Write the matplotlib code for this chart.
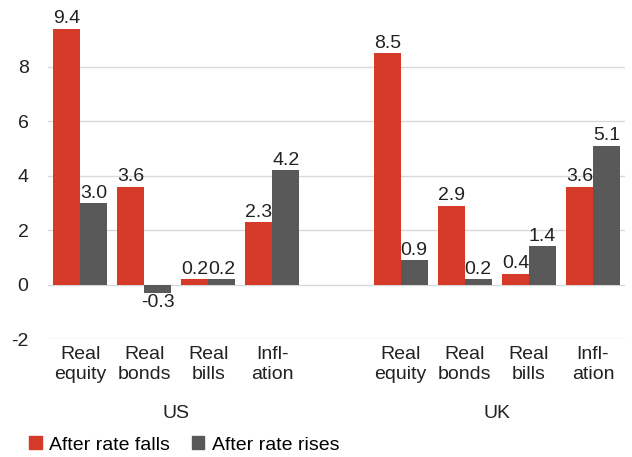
import matplotlib
matplotlib.use("Agg")
import matplotlib.pyplot as plt
import matplotlib.transforms as mtransforms
from matplotlib.patches import Patch
import numpy as np

plt.rcParams['font.family'] = ['Liberation Sans', 'DejaVu Sans']

categories = ["Real\nequity", "Real\nbonds", "Real\nbills", "Infl-\nation"]
groups = ["US", "UK"]
falls_us = [9.4, 3.6, 0.2, 2.3]
rises_us = [3.0, -0.3, 0.2, 4.2]
falls_uk = [8.5, 2.9, 0.4, 3.6]
rises_uk = [0.9, 0.2, 1.4, 5.1]
series_names = ["After rate falls", "After rate rises"]
yticks = [-2, 0, 2, 4, 6, 8]

RED = "#D63B29"
GRAY = "#595959"
TXT = "#222222"
FS = 14

fig = plt.figure(figsize=(6.32, 4.57), dpi=100)
ax = fig.add_axes([0.076, 0.258, 0.913, 0.742])

w = 0.42
pos_us = np.arange(4)
pos_uk = np.arange(4) + 5
positions = np.concatenate([pos_us, pos_uk])
falls = falls_us + falls_uk
rises = rises_us + rises_uk

b1 = ax.bar(positions - w / 2, falls, w, color=RED, zorder=3)
b2 = ax.bar(positions + w / 2, rises, w, color=GRAY, zorder=3)

for bars, vals in ((b1, falls), (b2, rises)):
    for rect, v in zip(bars, vals):
        x = rect.get_x() + rect.get_width() / 2
        if v >= 0:
            ax.annotate(f"{v:.1f}", (x, v), xytext=(0, 1), textcoords="offset points",
                        ha="center", va="bottom", fontsize=FS, color=TXT)
        else:
            ax.annotate(f"{v:.1f}", (x, v), xytext=(0, -1), textcoords="offset points",
                        ha="center", va="top", fontsize=FS, color=TXT)

ax.set_xlim(-0.5, 8.5)
ax.set_ylim(-2, 10.45)
ax.set_yticks(yticks)
ax.set_yticklabels([str(t) for t in yticks], fontsize=FS, color=TXT)
ax.set_xticks(positions)
ax.set_xticklabels(categories * 2, fontsize=FS, color=TXT, linespacing=1.2)
ax.tick_params(axis='both', length=0)
ax.tick_params(axis='x', pad=5)
ax.tick_params(axis='y', pad=14)
ax.grid(axis='y', color="#D9D9D9", linewidth=1, zorder=0)
for s in ax.spines.values():
    s.set_visible(False)

trans = mtransforms.blended_transform_factory(ax.transData, ax.transAxes)
for name, p in zip(groups, (pos_us, pos_uk)):
    ax.text(p.mean(), -0.22, name, transform=trans, ha="center", va="center",
            fontsize=FS, color=TXT)

handles = [Patch(color=RED), Patch(color=GRAY)]
fig.legend(handles, series_names, loc="center left", bbox_to_anchor=(0.046, 0.026),
           ncol=2, frameon=False, fontsize=FS, handlelength=0.65, handleheight=0.65,
           handletextpad=0.4, columnspacing=1.1, borderpad=0, borderaxespad=0)

fig.savefig("out.png", dpi=100)
